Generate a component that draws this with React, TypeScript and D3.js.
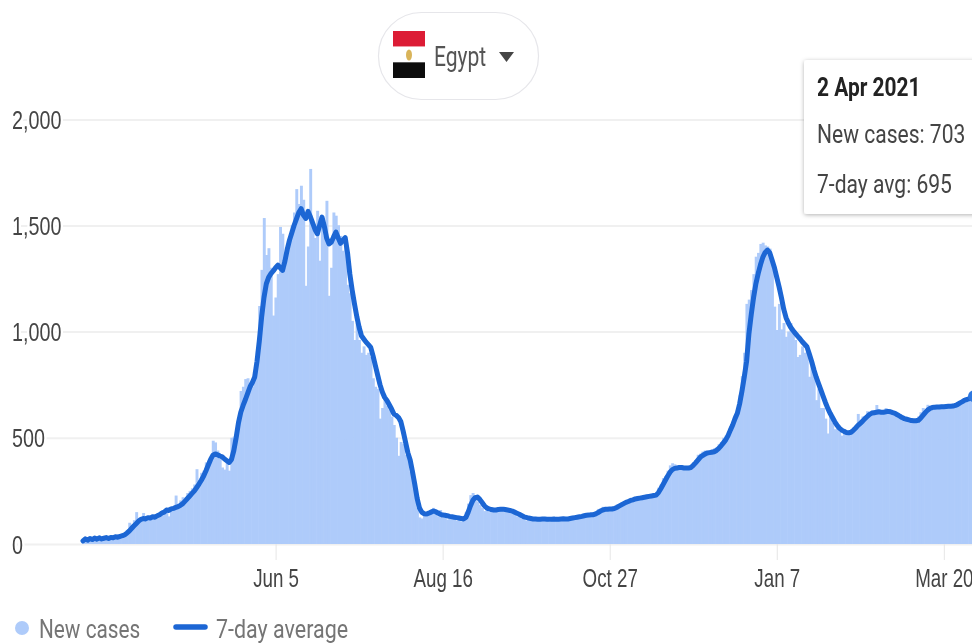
import React, { useEffect, useRef } from 'react';
import * as d3 from 'd3';

const startDate = '2020-03-14';
const yTicks = [0, 500, 1000, 1500, 2000];
const xTickDates = ['2020-06-05', '2020-08-16', '2020-10-27', '2021-01-07', '2021-03-20'];
const tooltipLines = ['New cases: 703', '7-day avg: 695'];
const tooltipTitle = '2 Apr 2021';
const countryName = 'Egypt';

// one value per day
const newCases = [
  12, 20, 26, 18, 28, 22, 30, 20, 30, 26,
  33, 30, 24, 32, 36, 30, 40, 40, 48, 58,
  100, 90, 112, 150, 112, 120, 146, 118, 130, 134,
  126, 138, 132, 146, 158, 152, 170, 130, 172, 176,
  228, 190, 205, 220, 196, 240, 250, 262, 280, 352,
  300, 335, 345, 384, 392, 410, 486, 478, 440, 400,
  360, 350, 388, 345, 500, 505, 520, 570, 720, 740,
  776, 780, 745, 740, 790, 910, 1120, 1290, 1534, 1360,
  1392, 1300, 1075, 1160, 1270, 1492, 1460, 1300, 1400, 1440,
  1500, 1560, 1670, 1600, 1686, 1620, 1215, 1400, 1765, 1500,
  1440, 1568, 1333, 1520, 1450, 1615, 1168, 1300, 1560, 1545,
  1500, 1450, 1380, 1420, 1220, 1180, 1050, 960, 1040, 960,
  900, 930, 890, 900, 880, 780, 740, 730, 590, 640,
  690, 650, 630, 600, 560, 500, 415, 480, 470, 420,
  400, 340, 300, 240, 170, 125, 120, 135, 130, 140,
  150, 170, 145, 130, 160, 125, 140, 115, 135, 120,
  130, 110, 125, 105, 120, 150, 190, 230, 240, 225,
  200, 185, 170, 155, 160, 150, 170, 155, 165, 150,
  170, 160, 165, 150, 155, 150, 145, 130, 135, 120,
  125, 110, 120, 115, 125, 110, 125, 112, 120, 110,
  125, 105, 120, 125, 110, 120, 125, 110, 125, 115,
  130, 115, 130, 120, 135, 125, 140, 130, 145, 135,
  150, 145, 165, 160, 175, 165, 170, 160, 175, 170,
  185, 180, 195, 190, 205, 200, 215, 210, 220, 215,
  225, 215, 230, 220, 235, 225, 240, 235, 265, 280,
  310, 320, 345, 370, 380, 375, 365, 360, 355, 350,
  350, 355, 370, 385, 395, 420, 425, 435, 440, 430,
  435, 445, 450, 455, 470, 480, 500, 510, 530, 555,
  575, 610, 640, 700, 790, 900, 1130, 1150, 1195, 1270,
  1352, 1370, 1412, 1418, 1405, 1400, 1390, 1340, 1117, 1007,
  1130, 1010, 1040, 975, 1000, 1040, 1010, 960, 880, 890,
  930, 900, 905, 787, 840, 790, 677, 730, 640, 640,
  590, 520, 610, 570, 540, 565, 530, 510, 520, 525,
  515, 535, 530, 550, 612, 570, 600, 590, 625, 620,
  630, 625, 654, 625, 630, 620, 640, 625, 610, 625,
  620, 600, 610, 590, 585, 595, 575, 590, 570, 585,
  600, 620, 640, 630, 655, 640, 650, 645, 650, 640,
  655, 640, 650, 655, 640, 660, 650, 670, 660, 675,
  685, 670, 700, 690, 703,
];

const sevenDayAvg = [
  15, 24, 18, 26, 21, 28, 23, 29, 24, 27,
  30, 26, 31, 29, 34, 32, 36, 39, 44, 52,
  62, 74, 86, 97, 108, 116, 120, 118, 124, 122,
  128, 126, 133, 138, 146, 150, 160, 158, 165, 168,
  172, 176, 182, 190, 202, 214, 226, 238, 250, 266,
  282, 300, 320, 345, 372, 398, 418, 424, 420, 414,
  410, 400, 392, 384, 398, 440, 500, 570, 620, 652,
  680, 710, 740, 760, 786, 860, 957, 1070, 1160, 1224,
  1255, 1272, 1285, 1300, 1312, 1300, 1288, 1330, 1385, 1430,
  1465, 1500, 1530, 1560, 1578, 1548, 1532, 1565, 1540, 1510,
  1480, 1460, 1500, 1538, 1495, 1440, 1412, 1420, 1445, 1468,
  1440, 1415, 1430, 1442, 1370, 1270, 1195, 1130, 1070, 1020,
  980, 965, 950, 938, 925, 885, 840, 795, 750, 715,
  690, 675, 655, 635, 612, 605, 595, 575, 530, 480,
  430, 395, 340, 280, 215, 170, 150, 142, 141, 145,
  150, 155, 152, 146, 140, 136, 135, 133, 130, 128,
  126, 124, 122, 120, 118, 125, 150, 180, 205, 218,
  221, 210, 195, 180, 170, 165, 162, 160, 160, 162,
  163, 164, 162, 160, 158, 155, 150, 145, 140, 134,
  128, 125, 122, 120, 118, 118, 117, 117, 118, 118,
  117, 116, 117, 118, 116, 117, 118, 119, 118, 118,
  120, 122, 124, 126, 128, 130, 133, 135, 136, 138,
  138, 142, 148, 155, 160, 163, 164, 165, 165, 167,
  172, 178, 184, 190, 196, 200, 205, 208, 212, 214,
  216, 218, 220, 222, 224, 226, 228, 230, 242, 260,
  280, 300, 320, 338, 350, 356, 358, 360, 360, 358,
  358, 358, 360, 370, 382, 395, 408, 416, 423, 428,
  430, 432, 434, 440, 450, 462, 476, 490, 510, 536,
  560, 590, 615, 660, 720, 787, 860, 990, 1080, 1160,
  1225, 1273, 1315, 1350, 1372, 1383, 1370, 1335, 1300, 1255,
  1210, 1160, 1105, 1065, 1040, 1020, 1005, 991, 978, 966,
  952, 940, 928, 895, 860, 820, 785, 755, 725, 695,
  665, 638, 615, 595, 575, 558, 545, 536, 530, 525,
  523, 526, 535, 546, 558, 568, 578, 590, 600, 610,
  616, 618, 620, 622, 620, 620, 622, 624, 622, 618,
  615, 608, 602, 595, 590, 587, 584, 581, 580, 580,
  582, 592, 605, 618, 630, 638, 642, 644, 645, 645,
  646, 646, 647, 648, 648, 649, 652, 657, 664, 670,
  677, 680, 684, 690, 695,
];

const WIDTH = 972;
const HEIGHT = 643;
const BAR_COLOR = '#aecbfa';
const LINE_COLOR = '#1a66d4';
const FONT = 'Roboto, sans-serif';

const App: React.FC = () => {
  const svgRef = useRef<SVGSVGElement>(null);

  useEffect(() => {
    if (!svgRef.current) return;
    d3.select(svgRef.current).selectAll('*').remove();

    const svg = d3.select(svgRef.current);
    const defs = svg.append('defs');
    defs.append('filter').attr('id', 'soft').append('feGaussianBlur').attr('stdDeviation', 0.5);
    const shadow = defs
      .append('filter')
      .attr('id', 'shadow')
      .attr('x', '-10%')
      .attr('y', '-10%')
      .attr('width', '120%')
      .attr('height', '125%');
    shadow
      .append('feDropShadow')
      .attr('dx', 0)
      .attr('dy', 1)
      .attr('stdDeviation', 2)
      .attr('flood-color', '#000')
      .attr('flood-opacity', 0.3);

    const root = svg.append('g').attr('filter', 'url(#soft)').style('font-family', FONT);

    const parse = d3.utcParse('%Y-%m-%d');
    const start = parse(startDate) as Date;
    const dates = newCases.map((_, i) => d3.utcDay.offset(start, i));
    const x = d3
      .scaleUtc()
      .domain([start, dates[dates.length - 1]])
      .range([83, 974]);
    const y = d3.scaleLinear().domain([0, 2000]).range([544, 119]);
    const barWidth = x(d3.utcDay.offset(start, 1)) - x(start);

    // Y axis with the grid lines
    const yAxis = root
      .append('g')
      .call(
        d3
          .axisLeft(y)
          .tickValues(yTicks)
          .tickSize(-WIDTH)
          .tickFormat(d => d3.format(',')(d as number))
      );
    yAxis.select('.domain').remove();
    yAxis.selectAll('line').attr('x1', 14).attr('stroke', '#f0f0f0').attr('stroke-width', 2);
    yAxis
      .selectAll('text')
      .attr('x', 0)
      .attr('dy', 0)
      .attr('text-anchor', 'start')
      .attr('transform', 'translate(12,9) scale(0.76,1)')
      .attr('font-size', 26)
      .attr('fill', '#444')
      .attr('stroke', '#fff')
      .attr('stroke-width', 6)
      .style('paint-order', 'stroke');

    // X axis
    const xAxis = root
      .append('g')
      .attr('transform', 'translate(0,544)')
      .call(
        d3
          .axisBottom(x)
          .tickValues(xTickDates.map(d => parse(d) as Date))
          .tickSize(16)
          .tickFormat(d => d3.utcFormat('%b %-d')(d as Date))
      );
    xAxis.select('.domain').remove();
    xAxis.selectAll('line').attr('stroke', '#e6e6e6').attr('stroke-width', 1);
    xAxis
      .selectAll('text')
      .attr('y', 0)
      .attr('dy', 0)
      .attr('transform', 'translate(0,43) scale(0.75,1)')
      .attr('font-size', 25)
      .attr('fill', '#444');

    // New cases bars
    root
      .append('g')
      .selectAll('rect')
      .data(newCases)
      .enter()
      .append('rect')
      .attr('x', (_, i) => x(dates[i]) - barWidth / 2)
      .attr('width', barWidth + 0.6)
      .attr('y', d => y(d))
      .attr('height', d => y(0) - y(d))
      .attr('fill', BAR_COLOR);

    // 7-day average
    const line = d3
      .line<number>()
      .x((_, i) => x(dates[i]))
      .y(d => y(d));
    root
      .append('path')
      .datum(sevenDayAvg)
      .attr('d', line)
      .attr('fill', 'none')
      .attr('stroke', LINE_COLOR)
      .attr('stroke-width', 5)
      .attr('stroke-linejoin', 'round')
      .attr('stroke-linecap', 'round');
    root
      .append('circle')
      .attr('cx', x(dates[dates.length - 1]))
      .attr('cy', y(sevenDayAvg[sevenDayAvg.length - 1]))
      .attr('r', 6)
      .attr('fill', '#2f78e0');

    // Country picker
    root
      .append('rect')
      .attr('x', 378.5)
      .attr('y', 12.5)
      .attr('width', 160)
      .attr('height', 87)
      .attr('rx', 43)
      .attr('fill', '#fff')
      .attr('stroke', '#e6e6ea')
      .attr('stroke-width', 1.2);
    const flagBands = ['#dc1e35', '#ffffff', '#0a0a0a'];
    const flagY = d3.scaleBand<number>().domain([0, 1, 2]).range([31, 78]);
    root
      .append('g')
      .selectAll('rect')
      .data(flagBands)
      .enter()
      .append('rect')
      .attr('x', 393)
      .attr('width', 32)
      .attr('y', (_, i) => flagY(i) as number)
      .attr('height', flagY.bandwidth())
      .attr('fill', d => d);
    root
      .append('ellipse')
      .attr('cx', 409)
      .attr('cy', 55)
      .attr('rx', 3)
      .attr('ry', 5.5)
      .attr('fill', '#d9b45a');
    root
      .append('text')
      .attr('transform', 'translate(434,66) scale(0.78,1)')
      .attr('font-size', 27)
      .attr('fill', '#555')
      .text(countryName);
    root.append('path').attr('d', 'M499,52 L514,52 L506.5,62 Z').attr('fill', '#444');

    // Tooltip
    root
      .append('rect')
      .attr('x', 804)
      .attr('y', 60)
      .attr('width', 190)
      .attr('height', 154)
      .attr('rx', 3)
      .attr('fill', '#fff')
      .attr('filter', 'url(#shadow)');
    root
      .append('text')
      .attr('transform', 'translate(817,96) scale(0.805,1)')
      .attr('font-size', 26)
      .attr('font-weight', 700)
      .attr('fill', '#222')
      .text(tooltipTitle);
    root
      .append('g')
      .selectAll('text')
      .data(tooltipLines)
      .enter()
      .append('text')
      .attr('transform', (_, i) => `translate(817,${143 + i * 50}) scale(0.81,1)`)
      .attr('font-size', 26)
      .attr('fill', '#444')
      .text(d => d);

    // Legend
    root.append('circle').attr('cx', 22).attr('cy', 628).attr('r', 7).attr('fill', BAR_COLOR);
    root
      .append('text')
      .attr('transform', 'translate(39,638) scale(0.8,1)')
      .attr('font-size', 26)
      .attr('fill', '#757575')
      .text('New cases');
    root
      .append('line')
      .attr('x1', 176)
      .attr('x2', 205)
      .attr('y1', 627)
      .attr('y2', 627)
      .attr('stroke', LINE_COLOR)
      .attr('stroke-width', 5.5)
      .attr('stroke-linecap', 'round');
    root
      .append('text')
      .attr('transform', 'translate(216,638) scale(0.825,1)')
      .attr('font-size', 26)
      .attr('fill', '#757575')
      .text('7-day average');
  }, []);

  return (
    <svg
      ref={svgRef}
      width={WIDTH}
      height={HEIGHT}
      style={{ position: 'absolute', left: 0, top: 0, background: '#fff' }}
    ></svg>
  );
};

export default App;
